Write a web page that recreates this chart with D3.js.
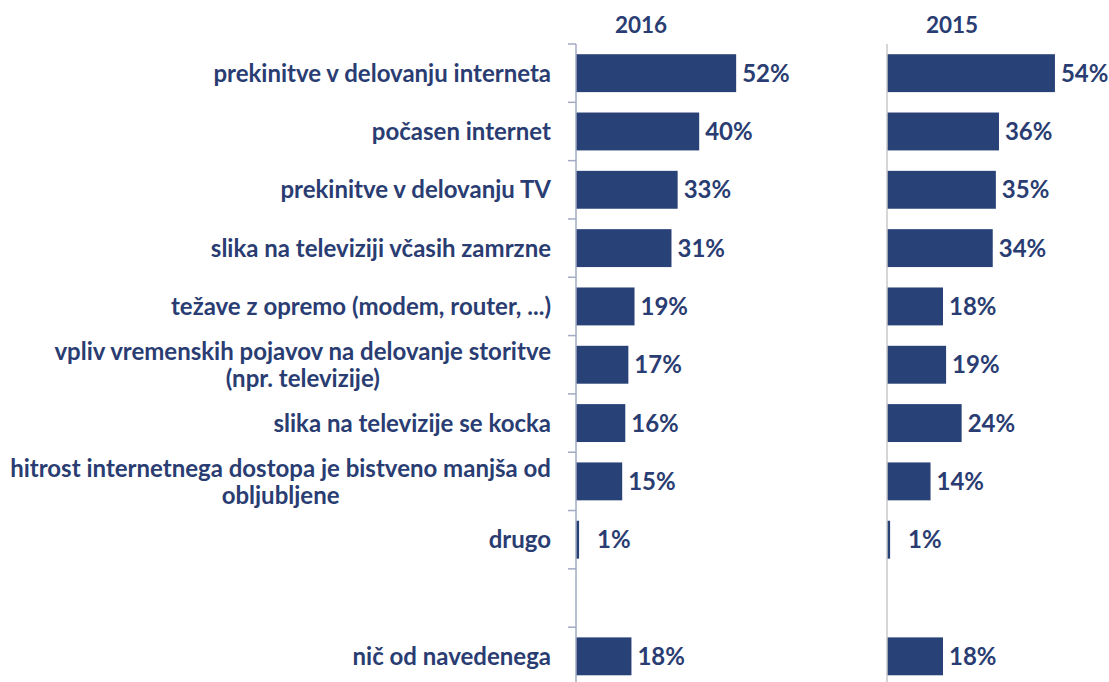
<!DOCTYPE html>
<html>
<head>
<meta charset="utf-8">
<script src="https://cdn.jsdelivr.net/npm/d3@7"></script>
<style>
  body { margin: 0; background: #fff; }
  svg text { font-family: "Lato", "Open Sans", sans-serif; font-weight: bold; fill: #2A3D72; }
</style>
</head>
<body>
<div id="chart"></div>
<script>
// podatki
const categories = [
  ["prekinitve v delovanju interneta"],
  ["počasen internet"],
  ["prekinitve v delovanju TV"],
  ["slika na televiziji včasih zamrzne"],
  ["težave z opremo (modem, router, ...)"],
  ["vpliv vremenskih pojavov na delovanje storitve", "(npr. televizije)"],
  ["slika na televizije se kocka"],
  ["hitrost internetnega dostopa je bistveno manjša od", "obljubljene"],
  ["drugo"],
  [""],
  ["nič od navedenega"]
];
const values2016 = [52, 40, 33, 31, 19, 17, 16, 15, 1, null, 18];
const values2015 = [54, 36, 35, 34, 18, 19, 24, 14, 1, null, 18];
const panelTitles = ["2016", "2015"];

const width = 1109, height = 682;
const barColor = "#284177";

const svg = d3.select("#chart").append("svg")
  .attr("width", width)
  .attr("height", height);

// skala za vrstice
const y = d3.scaleBand()
  .domain(d3.range(categories.length))
  .range([44, 685.5])
  .paddingInner(0.35)
  .paddingOuter(0.175);
const step = y.step();

// paneli
const panels = [
  { title: panelTitles[0], data: values2016, x0: 576, k: 3.08, ticks: true, axisColor: "#A3AAC2" },
  { title: panelTitles[1], data: values2015, x0: 887, k: 3.11, ticks: false, axisColor: "#C8C8C8" }
];

panels.forEach(p => {
  const x = d3.scaleLinear().domain([0, 100]).range([p.x0, p.x0 + 100 * p.k]);
  const g = svg.append("g");
  const rows = p.data.map((v, i) => ({ v, i })).filter(d => d.v != null);

  g.selectAll("rect")
    .data(rows)
    .enter()
    .append("rect")
    .attr("x", x(0))
    .attr("y", d => y(d.i))
    .attr("width", d => x(d.v) - x(0))
    .attr("height", y.bandwidth())
    .attr("fill", barColor);

  g.selectAll("text.val")
    .data(rows)
    .enter()
    .append("text")
    .attr("class", "val")
    .attr("x", d => Math.max(x(d.v) + 6, x(0) + 21))
    .attr("y", d => y(d.i) + y.bandwidth() / 2)
    .attr("dy", "0.36em")
    .style("font-size", "24px")
    .text(d => d.v + "%");

  // os
  g.append("line")
    .attr("x1", x(0)).attr("x2", x(0))
    .attr("y1", 44).attr("y2", height)
    .attr("stroke", p.axisColor)
    .attr("stroke-width", 1.5);

  if (p.ticks) {
    g.selectAll("line.tick")
      .data(d3.range(categories.length))
      .enter()
      .append("line")
      .attr("class", "tick")
      .attr("x1", x(0) - 8).attr("x2", x(0))
      .attr("y1", i => y(i) - y.paddingOuter() * step)
      .attr("y2", i => y(i) - y.paddingOuter() * step)
      .attr("stroke", p.axisColor)
      .attr("stroke-width", 1.5);
  }

  g.append("text")
    .attr("x", x(0) + 65)
    .attr("y", 25)
    .attr("dy", "0.36em")
    .attr("text-anchor", "middle")
    .style("font-size", "22.5px")
    .text(p.title);
});

// oznake kategorij
const labelRight = 551;
categories.forEach((lines, i) => {
  const cy = y(i) + y.bandwidth() / 2;
  const t = svg.append("text")
    .style("font-size", "24px");
  const lineH = 27;
  lines.forEach((s, j) => {
    t.append("tspan")
      .attr("y", cy + (j - (lines.length - 1) / 2) * lineH)
      .attr("dy", "0.36em")
      .text(s);
  });
  // poravnava: desno, večvrstične na sredino bloka
  const spans = t.selectAll("tspan").nodes();
  const maxW = d3.max(spans, n => n.getComputedTextLength());
  t.attr("text-anchor", "middle");
  t.selectAll("tspan").attr("x", labelRight - maxW / 2);
});
</script>
</body>
</html>
